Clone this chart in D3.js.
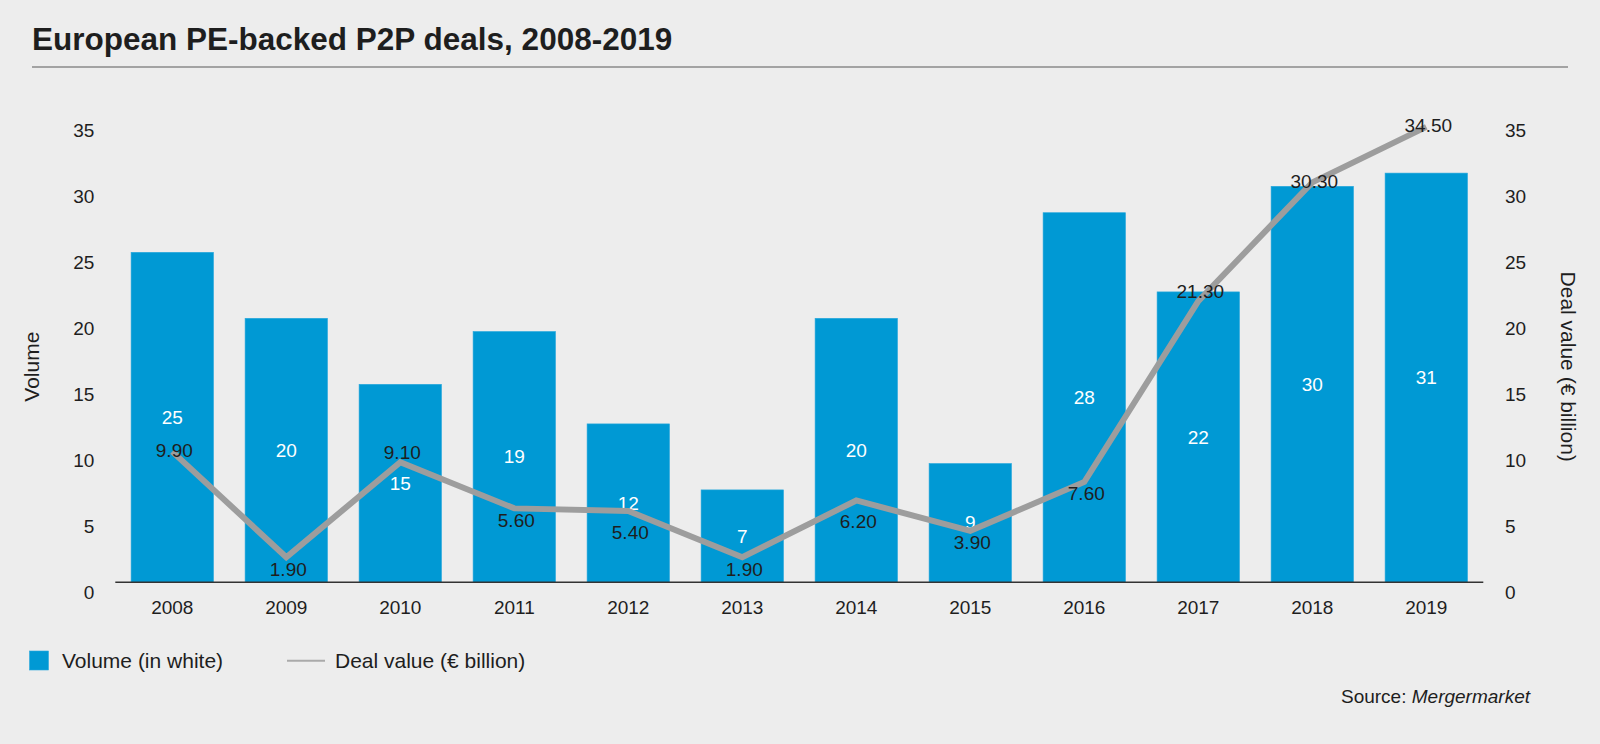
<!DOCTYPE html>
<html>
<head>
<meta charset="utf-8">
<script src="https://cdn.jsdelivr.net/npm/d3@7"></script>
<style>
  html, body { margin: 0; padding: 0; background: #ededed; }
  svg { display: block; }
  text { font-family: "Liberation Sans", Arial, Helvetica, sans-serif; fill: #1e1e1e; }
</style>
</head>
<body>
<svg id="chart" width="1600" height="744"></svg>
<script>
// ---- data ----
const years = ["2008","2009","2010","2011","2012","2013","2014","2015","2016","2017","2018","2019"];
const volume = [25, 20, 15, 19, 12, 7, 20, 9, 28, 22, 30, 31];
const dealValue = [9.9, 1.9, 9.1, 5.6, 5.4, 1.9, 6.2, 3.9, 7.6, 21.3, 30.3, 34.5];
const valueLabelPlacement = ["on","below","above","below","under","below","under","below","below","above","on","on"];
const yTicks = [0, 5, 10, 15, 20, 25, 30, 35];
const titleText = "European PE-backed P2P deals, 2008-2019";
const legendLabels = ["Volume (in white)", "Deal value (\u20ac billion)"];

// ---- layout ----
const W = 1600, H = 744;
const plot = { left: 115.3, right: 1483.3, top: 120.3, bottom: 582.3 };
const barColor = "#0099d4";
const lineColor = "#9d9d9d";

const svg = d3.select("#chart");
svg.append("rect").attr("width", W).attr("height", H).attr("fill", "#ededed");

// title
svg.append("text").attr("x", 32).attr("y", 50)
  .attr("font-size", 31.5).attr("font-weight", "bold").text(titleText);
svg.append("line").attr("x1", 32).attr("x2", 1568).attr("y1", 67).attr("y2", 67)
  .attr("stroke", "#8a8a8a").attr("stroke-width", 1.5);

// scales
const x = d3.scaleBand().domain(years).range([plot.left, plot.right])
  .paddingInner(0.277).paddingOuter(0.1385);
const yL = d3.scaleLinear().domain([0, 35]).range([plot.bottom, plot.top]);
const yR = d3.scaleLinear().domain([0, 35]).range([plot.bottom, plot.top]);

// bars
svg.append("g").selectAll("rect").data(years).join("rect")
  .attr("x", d => x(d))
  .attr("y", (d, i) => yL(volume[i]))
  .attr("width", x.bandwidth())
  .attr("height", (d, i) => yL(0) - yL(volume[i]))
  .attr("fill", barColor)
  .attr("stroke", "#2aa8dc").attr("stroke-width", 0.6);

// bar labels (white, centered)
svg.append("g").selectAll("text").data(years).join("text")
  .attr("x", d => x(d) + x.bandwidth() / 2)
  .attr("y", (d, i) => (yL(volume[i]) + yL(0)) / 2)
  .attr("text-anchor", "middle").attr("dominant-baseline", "central")
  .attr("font-size", 19).style("fill", "#ffffff")
  .text((d, i) => volume[i]);

// baseline axis line
svg.append("line").attr("x1", plot.left).attr("x2", plot.right)
  .attr("y1", yL(0)).attr("y2", yL(0))
  .attr("stroke", "#333333").attr("stroke-width", 1.5);

// deal value line
const line = d3.line()
  .x((d, i) => x(years[i]) + x.bandwidth() / 2)
  .y(d => yR(d));
svg.append("path").datum(dealValue)
  .attr("d", line).attr("fill", "none")
  .attr("stroke", lineColor).attr("stroke-width", 6)
  .attr("stroke-linejoin", "miter");

// deal value labels
const placeDy = { on: -1, above: -10, below: 12, under: 21 };
svg.append("g").selectAll("text").data(dealValue).join("text")
  .attr("x", (d, i) => x(years[i]) + x.bandwidth() / 2 + 2)
  .attr("y", (d, i) => yR(d) + placeDy[valueLabelPlacement[i]])
  .attr("text-anchor", "middle").attr("dominant-baseline", "central")
  .attr("font-size", 19)
  .text(d => d.toFixed(2));

// axes
const tickLabelShift = 10.4;
const leftAxis = svg.append("g")
  .attr("transform", `translate(94.3, ${tickLabelShift})`)
  .call(d3.axisLeft(yL).tickValues(yTicks).tickSize(0).tickPadding(0));
leftAxis.select(".domain").remove();
leftAxis.selectAll("text").attr("font-size", 19).attr("font-family", null)
  .style("fill", "#1e1e1e");

const rightAxis = svg.append("g")
  .attr("transform", `translate(1505, ${tickLabelShift})`)
  .call(d3.axisRight(yR).tickValues(yTicks).tickSize(0).tickPadding(0));
rightAxis.select(".domain").remove();
rightAxis.selectAll("text").attr("font-size", 19).attr("font-family", null)
  .style("fill", "#1e1e1e");

const bottomAxis = svg.append("g")
  .attr("transform", `translate(0, ${yL(0)})`)
  .call(d3.axisBottom(x).tickSize(0).tickPadding(18.3));
bottomAxis.select(".domain").remove();
bottomAxis.selectAll("text").attr("font-size", 19).attr("font-family", null)
  .style("fill", "#1e1e1e");

// axis titles
svg.append("text")
  .attr("transform", "translate(31.7, 366.7) rotate(-90)")
  .attr("text-anchor", "middle").attr("dominant-baseline", "central")
  .attr("font-size", 21).text("Volume");
svg.append("text")
  .attr("transform", "translate(1568.3, 366.7) rotate(90)")
  .attr("text-anchor", "middle").attr("dominant-baseline", "central")
  .attr("font-size", 21).text("Deal value (\u20ac billion)");

// legend
const lg = svg.append("g");
lg.append("rect").attr("x", 29.5).attr("y", 651).attr("width", 19).attr("height", 19)
  .attr("fill", barColor).attr("stroke", "#2aa8dc").attr("stroke-width", 0.6);
lg.append("text").attr("x", 62).attr("y", 660.7)
  .attr("dominant-baseline", "central").attr("font-size", 21).text(legendLabels[0]);
lg.append("line").attr("x1", 287).attr("x2", 325).attr("y1", 660.7).attr("y2", 660.7)
  .attr("stroke", "#aaaaaa").attr("stroke-width", 2);
lg.append("text").attr("x", 335).attr("y", 660.7)
  .attr("dominant-baseline", "central").attr("font-size", 21).text(legendLabels[1]);

// source
const src = svg.append("text").attr("x", 1530).attr("y", 696)
  .attr("text-anchor", "end").attr("dominant-baseline", "central").attr("font-size", 19);
src.append("tspan").text("Source: ");
src.append("tspan").attr("font-style", "italic").text("Mergermarket");
</script>
</body>
</html>
